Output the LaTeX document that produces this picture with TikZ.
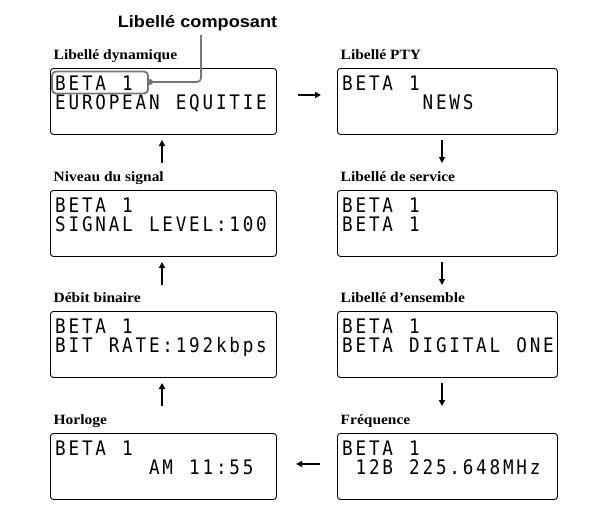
\documentclass[tikz,border=0pt]{standalone}
\usepackage{fontspec}
\usepackage{graphicx}
\usetikzlibrary{arrows.meta}
\newfontfamily\lcdfont{DejaVu Sans Mono}
\newfontfamily\serifb{Liberation Serif}
\newfontfamily\sansb{Liberation Sans}
\definecolor{callgray}{RGB}{118,118,118}
\newdimen\lcdpitch \lcdpitch=13.4pt
\ExplSyntaxOn
\NewDocumentCommand\lcd{m}{
  \str_map_inline:nn {#1}
   {
     \str_if_eq:nnTF {##1} {_}
       { \hbox_to_wd:nn {\lcdpitch} {\hfil} }
       { \hbox_to_wd:nn {\lcdpitch} {\scalebox{0.88}[1]{##1}\hfil} }
   }
}
\ExplSyntaxOff
\tikzset{
  screenbox/.style={draw, rounded corners=3pt, line width=0.9pt, anchor=north west,
    inner sep=0pt, minimum height=66pt},
  lbl/.style={anchor=base west, inner sep=0pt, font=\serifb\bfseries\fontsize{14.2}{15}\selectfont},
  lcdtext/.style={anchor=base west, inner sep=0pt, font=\lcdfont\fontsize{20}{20}\selectfont},
  arr/.style={line width=1.4pt, -{Triangle[length=6pt,width=6pt]}},
  callout/.style={draw=callgray, line width=1.6pt, rounded corners=4pt},
}
% name, x, top, width, label, line1, line2
\newcommand\screen[7]{%
  \node[screenbox, minimum width=#4pt] (#1) at (#2,#3) {};
  \node[lbl] (#1-l) at (#2+3.5,#3-8.5) {\scalebox{1.09}[1]{#5}};
  \node[lcdtext] (#1-a) at (#2+5,#3+22) {\lcd{#6}};
  \node[lcdtext] (#1-b) at (#2+5,#3+41) {\lcd{#7}};
}
\begin{document}
\begin{tikzpicture}[x=1pt,y=-1pt]
\useasboundingbox (0,0) rectangle (609,504);
% left column
\screen{dyn}{50}{68}{226}{Libellé dynamique}{BETA_1}{EUROPEAN_EQUITIE}
\screen{sig}{50}{190}{226}{Niveau du signal}{BETA_1}{SIGNAL_LEVEL:100}
\screen{bit}{50}{311}{226}{Débit binaire}{BETA_1}{BIT_RATE:192kbps}
\screen{clk}{50}{433}{226}{Horloge}{BETA_1}{_______AM_11:55}
% right column
\screen{pty}{337}{68}{220}{Libellé PTY}{BETA_1}{______NEWS}
\screen{srv}{337}{190}{220}{Libellé de service}{BETA_1}{BETA_1}
\screen{ens}{337}{311}{220}{Libellé d’ensemble}{BETA_1}{BETA_DIGITAL_ONE}
\screen{frq}{337}{433}{220}{Fréquence}{BETA_1}{_12B_225.648MHz}
% arrows
\coordinate (r1s) at (298,95);  \coordinate (r1e) at (321,95);
\draw[arr] (r1s) -- (r1e);
\coordinate (d1s) at (442,140); \coordinate (d1e) at (442,163);
\coordinate (d2s) at (442,262); \coordinate (d2e) at (442,285);
\coordinate (d3s) at (442,383); \coordinate (d3e) at (442,406);
\draw[arr] (d1s) -- (d1e);
\draw[arr] (d2s) -- (d2e);
\draw[arr] (d3s) -- (d3e);
\coordinate (l4s) at (320,464); \coordinate (l4e) at (296,464);
\draw[arr] (l4s) -- (l4e);
\coordinate (u3s) at (162,406); \coordinate (u3e) at (162,383);
\coordinate (u2s) at (162,285); \coordinate (u2e) at (162,262);
\coordinate (u1s) at (162,163); \coordinate (u1e) at (162,140);
\draw[arr] (u3s) -- (u3e);
\draw[arr] (u2s) -- (u2e);
\draw[arr] (u1s) -- (u1e);
% callout
\node[draw=callgray, line width=1.8pt, rounded corners=4pt, minimum width=96pt,
  minimum height=22pt, inner sep=0pt] (hl) at (100,82.5) {};
\node[circle, fill=callgray, inner sep=0pt, minimum size=6pt] (dot) at (150,82) {};
\node[anchor=base, inner sep=0pt, font=\sansb\bfseries\fontsize{16.5}{17}\selectfont]
  (comp) at (197.5,27) {\scalebox{1.1}[1]{Libellé composant}};
\coordinate (ctop) at (201,35);
\draw[callout] (dot.center) -| (ctop);
\end{tikzpicture}
\end{document}
